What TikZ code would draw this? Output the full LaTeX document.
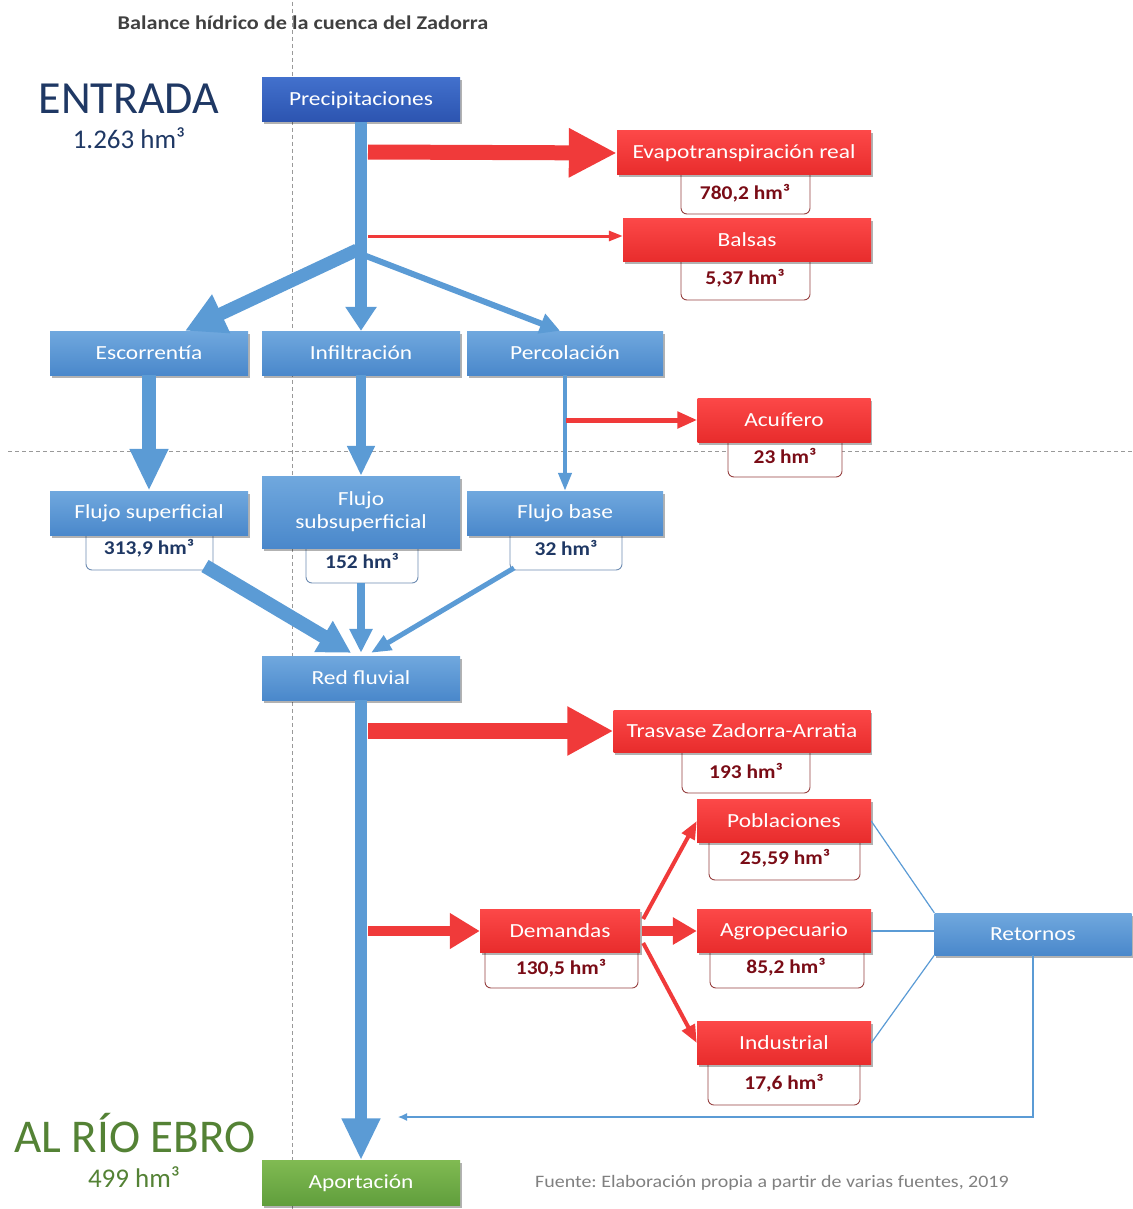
\documentclass[tikz,border=0pt]{standalone}
\usepackage{fontspec}
\setmainfont{Carlito}
\newfontfamily\lblfont{Carlito}[FakeStretch=1.17]
\newfontfamily\valfont{Carlito}[FakeStretch=1.1]
\newfontfamily\srcfont{Carlito}[FakeStretch=1.14]
\usetikzlibrary{arrows.meta,shadows,calc}
\frenchspacing
\definecolor{arrowblue}{RGB}{91,155,213}
\definecolor{blueT}{RGB}{112,168,222}
\definecolor{blueB}{RGB}{74,136,203}
\definecolor{dblueT}{RGB}{66,112,204}
\definecolor{dblueB}{RGB}{44,84,176}
\definecolor{redT}{RGB}{252,72,72}
\definecolor{redB}{RGB}{232,44,44}
\definecolor{arrowred}{RGB}{240,58,58}
\definecolor{greenT}{RGB}{128,186,82}
\definecolor{greenB}{RGB}{96,158,60}
\definecolor{navy}{RGB}{31,56,100}
\definecolor{valred}{RGB}{122,12,22}
\definecolor{valblueline}{RGB}{110,140,178}
\definecolor{valredline}{RGB}{150,64,64}
\definecolor{titlegray}{RGB}{64,64,64}
\definecolor{srcgray}{RGB}{128,128,128}
\definecolor{ebrogreen}{RGB}{84,130,53}
\begin{document}
\begin{tikzpicture}[x=1pt,y=-1pt,
  basebox/.style={rectangle, inner sep=0pt, text=white, font=\lblfont\fontsize{20}{23}\selectfont,
    minimum height=44pt, align=center,
    drop shadow={opacity=0.3, shadow xshift=1.5pt, shadow yshift=-2.5pt, fill=black}},
  bluebox/.style={basebox, top color=blueT, bottom color=blueB},
  dbluebox/.style={basebox, top color=dblueT, bottom color=dblueB},
  redbox/.style={basebox, top color=redT, bottom color=redB},
  greenbox/.style={basebox, top color=greenT, bottom color=greenB},
  valblue/.style={draw=valblueline, fill=white, line width=0.9pt, rounded corners=6pt},
  valredbox/.style={draw=valredline, fill=white, line width=0.9pt, rounded corners=6pt},
  valtextb/.style={inner sep=0pt, text=navy, font=\valfont\bfseries\fontsize{19.5}{22}\selectfont},
  valtextr/.style={inner sep=0pt, text=valred, font=\valfont\bfseries\fontsize{19.5}{22}\selectfont},
  barrow/.style n args={3}{draw=arrowblue, line width=#1pt, -{Triangle[width=#2pt,length=#3pt]}},
  rarrow/.style n args={3}{draw=arrowred, line width=#1pt, -{Triangle[width=#2pt,length=#3pt]}},
  guide/.style={draw=gray!80, line width=0.8pt, dash pattern=on 4pt off 3pt},
  thinline/.style={draw=arrowblue, line width=1.2pt}
]
\useasboundingbox (0,0) rectangle (1132,1209);

% guide lines
\draw[guide] (292,2) -- (292,1209);
\draw[guide] (8,451) -- (1132,451);

% texts
\node[text=titlegray, font=\srcfont\bfseries\fontsize{19.5}{22}\selectfont, inner sep=0pt] (title) at (303,23) {Balance hídrico de la cuenca del Zadorra};
\node[text=navy, font=\fontsize{46}{50}\selectfont, inner sep=0pt] (entrada) at (129,99) {ENTRADA};
\node[text=navy, font=\fontsize{27}{30}\selectfont, inner sep=0pt] (entval) at (129,138) {1.263 hm³};
\node[text=ebrogreen, font=\fontsize{47}{50}\selectfont, inner sep=0pt] (ebro) at (135,1133) {AL RÍO EBRO};
\node[text=ebrogreen, font=\fontsize{27}{30}\selectfont, inner sep=0pt] (ebroval) at (134,1177) {499 hm³};
\node[text=srcgray, font=\srcfont\fontsize{17.5}{20}\selectfont, inner sep=0pt, anchor=west] (src) at (535,1183) {Fuente: Elaboración propia a partir de varias fuentes, 2019};

% value boxes (drawn first)
\draw[valredbox] (681,166) rectangle (810,214);
\draw[valredbox] (681,253) rectangle (810,300);
\draw[valredbox] (728,433) rectangle (842,477);
\draw[valblue] (86,526) rectangle (213,570);
\draw[valblue] (306,539) rectangle (418,583);
\draw[valblue] (510,526) rectangle (622,570);
\draw[valredbox] (682,743) rectangle (810,793);
\draw[valredbox] (485,944) rectangle (638,988);
\draw[valredbox] (709,834) rectangle (860,880);
\draw[valredbox] (710,944) rectangle (864,988);
\draw[valredbox] (708,1056) rectangle (860,1105);

\node[valtextr] (evapv) at (745,193) {780,2 hm³};
\node[valtextr] (balv) at (745,278) {5,37 hm³};
\node[valtextr] (acuv) at (785,456) {23 hm³};
\node[valtextb] (fsupv) at (149,548) {313,9 hm³};
\node[valtextb] (fsubv) at (362,561) {152 hm³};
\node[valtextb] (fbasev) at (566,548) {32 hm³};
\node[valtextr] (trasv) at (746,771) {193 hm³};
\node[valtextr] (demv) at (561,968) {130,5 hm³};
\node[valtextr] (pobv) at (785,858) {25,59 hm³};
\node[valtextr] (agrov) at (786,967) {85,2 hm³};
\node[valtextr] (indv) at (784,1083) {17,6 hm³};

% main boxes
\node[dbluebox, minimum width=198pt] (prec) at (361,100) {Precipitaciones};
\node[redbox, minimum width=254pt] (evap) at (744,153) {Evapotranspiración real};
\node[redbox, minimum width=248pt, minimum height=43pt] (balsas) at (747,240) {Balsas};
\node[bluebox, minimum width=198pt] (esc) at (149,353) {Escorrentía};
\node[bluebox, minimum width=198pt] (inf) at (361,353) {Infiltración};
\node[bluebox, minimum width=196pt] (perc) at (565,353) {Percolación};
\node[redbox, minimum width=173pt] (acu) at (784,420) {Acuífero};
\node[bluebox, minimum width=198pt] (fsup) at (149,513) {Flujo superficial};
\node[bluebox, minimum width=198pt, minimum height=72pt] (fsub) at (361,512) {Flujo\\subsuperficial};
\node[bluebox, minimum width=196pt] (fbase) at (565,513) {Flujo base};
\node[bluebox, minimum width=198pt] (red) at (361,678) {Red fluvial};
\node[redbox, minimum width=257pt, minimum height=42pt] (tras) at (742,731) {Trasvase Zadorra-Arratia};
\node[redbox, minimum width=160pt, minimum height=43pt] (dem) at (560,931) {Demandas};
\node[redbox, minimum width=174pt, minimum height=43pt] (pob) at (784,821) {Poblaciones};
\node[redbox, minimum width=174pt, minimum height=43pt] (agro) at (784,931) {Agropecuario};
\node[redbox, minimum width=174pt, minimum height=43pt] (ind) at (784,1043) {Industrial};
\node[bluebox, minimum width=197pt, minimum height=42pt] (ret) at (1033,934) {Retornos};
\node[greenbox, minimum width=198pt, minimum height=45pt] (apor) at (361,1183) {Aportación};

% coordinates for connector ends on the flows
\coordinate (evs) at (368,152);
\coordinate (bas) at (368,236);
\coordinate (splL) at (357,250);
\coordinate (splR) at (366,256);
\coordinate (acs) at (566,420);
\coordinate (trs) at (368,731);
\coordinate (des) at (368,931);
\coordinate (retend) at (398,1117);
\coordinate (fsupout) at (205,566);
\coordinate (fbaseout) at (514,568);

% blue flows
\draw[barrow={12}{30}{24}] (prec.south) -- (inf.north);
\draw[barrow={13}{40}{40}] (splL) -- ($(esc.north)+(36,0)$);
\draw[barrow={6}{20}{20}] (splR) -- ($(perc.north)+(-5,0)$);
\draw[barrow={14}{36}{42}] (esc.south) -- (fsup.north);
\draw[barrow={10}{26}{30}] (inf.south) -- (fsub.north);
\draw[barrow={4}{13}{18}] (perc.south) -- (fbase.north);
\draw[barrow={14}{34}{32}] (fsupout) -- ($(red.north)+(-10,-3)$);
\draw[barrow={8}{22}{24}] ($(fsub.south)+(0,35)$) -- ($(red.north)+(0,-3)$);
\draw[barrow={5}{16}{20}] (fbaseout) -- ($(red.north)+(10,-3)$);
\draw[barrow={12}{36}{42}] (red.south) -- (apor.north);

% red flows
\draw[rarrow={15}{46}{48}] (evs) -- (evap.west);
\draw[rarrow={3}{10}{14}] (bas) -- (balsas.west |- bas);
\draw[rarrow={5}{16}{20}] (acs) -- (acu.west);
\draw[rarrow={16}{46}{46}] (trs) -- (tras.west);
\draw[rarrow={10}{34}{30}] (des) -- (dem.west);
\draw[rarrow={4}{14}{18}] ($(dem.east)+(3,-12)$) -- (pob.west);
\draw[rarrow={10}{26}{24}] ($(dem.east)+(2,0)$) -- (agro.west);
\draw[rarrow={4}{14}{18}] ($(dem.east)+(3,12)$) -- (ind.west);

% returns
\draw[thinline] (pob.east) -- (ret.north west);
\draw[thinline] (agro.east) -- (agro.east -| ret.west);
\draw[thinline] (ind.east) -- (ret.south west);
\draw[thinline, -{Latex[length=9pt,width=8pt]}] (ret.south) |- (retend);
\end{tikzpicture}
\end{document}
